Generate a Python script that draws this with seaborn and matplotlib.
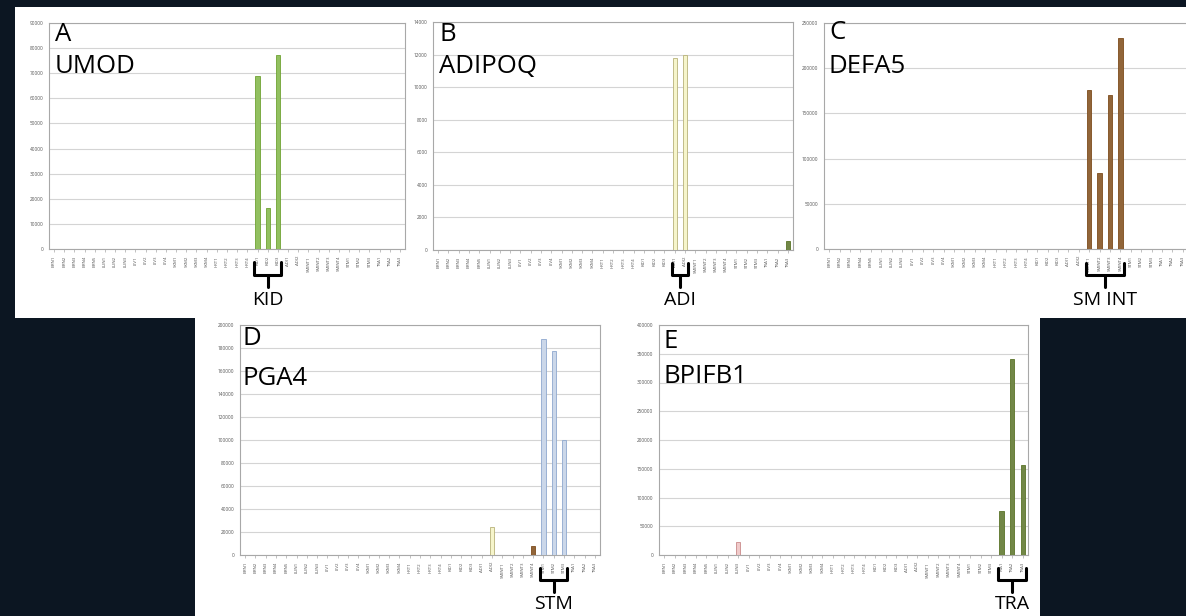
import matplotlib
matplotlib.use("Agg")
import matplotlib.pyplot as plt
import matplotlib.patches as mpatches
import matplotlib.transforms as mtransforms
from matplotlib.ticker import FuncFormatter, MultipleLocator
import seaborn as sns
import pandas as pd

sns.set_theme(style="white")
plt.rcParams['font.family'] = ['Open Sans', 'DejaVu Sans']

W, H = 1186, 616

categories = ['BRN1', 'BRN2', 'BRN3', 'BRN4', 'BRN5', 'LUN1', 'LUN2', 'LUN3',
              'LIV1', 'LIV2', 'LIV3', 'LIV4', 'SKM1', 'SKM2', 'SKM3', 'SKM4',
              'HRT1', 'HRT2', 'HRT3', 'HRT4', 'KID1', 'KID2', 'KID3', 'ADI1', 'ADI2',
              'SMINT1', 'SMINT2', 'SMINT3', 'SMINT4', 'STM1', 'STM2', 'STM3',
              'TRA1', 'TRA2', 'TRA3']

# non-zero expression values per gene (all other tissues are 0)
umod = {'KID1': 68800, 'KID2': 16300, 'KID3': 77400}
adipoq = {'ADI1': 11820, 'ADI2': 11950, 'TRA3': 570}
defa5 = {'SMINT1': 175700, 'SMINT2': 84600, 'SMINT3': 170200, 'SMINT4': 233500}
pga4 = {'ADI2': 24600, 'SMINT4': 8100, 'STM1': 187500, 'STM2': 177400, 'STM3': 100000}
bpifb1 = {'LUN3': 22000, 'TRA1': 75900, 'TRA2': 340300, 'TRA3': 156500}

tissue_fill = {'KID': '#92d050', 'ADI': '#fdfcc4', 'SMINT': '#a0652a', 'STM': '#c6d6ee',
               'TRA': '#76923c', 'LUN': '#f6c4c4'}
tissue_edge = {'KID': '#6fa332', 'ADI': '#b8b27a', 'SMINT': '#7d4c1c', 'STM': '#8ea8cf',
               'TRA': '#5a7428', 'LUN': '#c98a8a'}


def tissue(c):
    return c.rstrip('0123456789')


panels = [
    dict(letter='A', gene='UMOD', vals=umod, ymax=90000, step=10000,
         box=(49, 23, 405, 249), letter_xy=(55, 22), gene_xy=(55, 54),
         gcats=('KID1', 'KID3'), glabel='KID', brace_y=(262, 275, 287), label_y=300),
    dict(letter='B', gene='ADIPOQ', vals=adipoq, ymax=14000, step=2000,
         box=(433, 22, 793, 250), letter_xy=(439, 22), gene_xy=(439, 54),
         gcats=('ADI1', 'ADI2'), glabel='ADI', brace_y=(263, 275, 287), label_y=300),
    dict(letter='C', gene='DEFA5', vals=defa5, ymax=250000, step=50000,
         box=(824, 23, 1188, 249), letter_xy=(829, 20), gene_xy=(829, 54),
         gcats=('SMINT1', 'SMINT4'), glabel='SM INT', brace_y=(263, 275, 287), label_y=300),
    dict(letter='D', gene='PGA4', vals=pga4, ymax=200000, step=20000,
         box=(240, 325, 600, 555), letter_xy=(243, 326), gene_xy=(243, 366),
         gcats=('STM1', 'STM3'), glabel='STM', brace_y=(568, 580, 592), label_y=604),
    dict(letter='E', gene='BPIFB1', vals=bpifb1, ymax=400000, step=50000,
         box=(659, 325, 1028, 555), letter_xy=(663, 329), gene_xy=(663, 364),
         gcats=('TRA1', 'TRA3'), glabel='TRA', brace_y=(568, 580, 592), label_y=604),
]

fig = plt.figure(figsize=(W / 100, H / 100), dpi=100)
fig.patch.set_facecolor('#0c1622')

# white slide areas behind the panels
for (x0, y0, x1, y1) in [(15, 7, 1186, 318), (195, 310, 1040, 616)]:
    fig.patches.append(mpatches.Rectangle((x0 / W, 1 - y1 / H), (x1 - x0) / W, (y1 - y0) / H,
                                          transform=fig.transFigure, facecolor='white',
                                          edgecolor='none', zorder=-10))

for p in panels:
    x0, y0, x1, y1 = p['box']
    ax = fig.add_axes([x0 / W, 1 - y1 / H, (x1 - x0) / W, (y1 - y0) / H])
    ax.set_zorder(2)
    ax.set_facecolor('white')
    values = [p['vals'].get(c, 0) for c in categories]
    df = pd.DataFrame({'tissue_sample': categories, 'value': values})
    colors = [tissue_fill.get(tissue(c), '#cccccc') for c in categories]
    sns.barplot(data=df, x='tissue_sample', y='value', hue='tissue_sample',
                palette=colors, legend=False, width=0.42, ax=ax, zorder=3)
    for patch, c in zip(ax.patches, categories):
        patch.set_edgecolor(tissue_edge.get(tissue(c), '#999999'))
        patch.set_linewidth(0.6)
    ax.set_ylim(0, p['ymax'])
    ax.set_xlim(-0.5, len(categories) - 0.5)
    ax.yaxis.set_major_locator(MultipleLocator(p['step']))
    ax.yaxis.set_major_formatter(FuncFormatter(lambda v, pos: f"{int(round(v))}"))
    ax.grid(axis='y', color='#d4d4d4', linewidth=0.8, zorder=0)
    ax.set_axisbelow(True)
    for s in ax.spines.values():
        s.set_color('#a8a8a8')
        s.set_linewidth(0.8)
    ax.set_xlabel('')
    ax.set_ylabel('')
    ax.tick_params(axis='y', labelsize=3.4, labelcolor='#555555', length=0, pad=4)
    ax.tick_params(axis='x', labelsize=3.2, labelcolor='#555555', rotation=90,
                   length=2, width=0.5, color='#a8a8a8', direction='out', pad=3)
    ax.tick_params(axis='x', bottom=True)

    # panel letter and gene name
    fig.text(p['letter_xy'][0] / W, 1 - p['letter_xy'][1] / H, p['letter'],
             fontsize=18.5, va='top', ha='left', color='black', zorder=5)
    fig.text(p['gene_xy'][0] / W, 1 - p['gene_xy'][1] / H, p['gene'],
             fontsize=18.5, va='top', ha='left', color='black', zorder=5)

    # bracket below the tissue group
    trans = mtransforms.blended_transform_factory(ax.transData, fig.transFigure)
    i0 = categories.index(p['gcats'][0]) - 0.3
    i1 = categories.index(p['gcats'][1]) + 0.3
    yt, ym, yb = [1 - v / H for v in p['brace_y']]
    xm = (i0 + i1) / 2
    kw = dict(transform=trans, color='black', linewidth=2.2, clip_on=False,
              solid_capstyle='round', solid_joinstyle='round', zorder=5)
    fig.lines.append(plt.Line2D([i0, i0, i1, i1], [yt, ym, ym, yt], **kw))
    fig.lines.append(plt.Line2D([xm, xm], [ym, yb], **kw))
    fig.text(xm, 1 - p['label_y'] / H, p['glabel'], transform=trans, fontsize=14,
             ha='center', va='center', color='black', zorder=5)

fig.savefig('out.png', dpi=100, facecolor=fig.get_facecolor())
